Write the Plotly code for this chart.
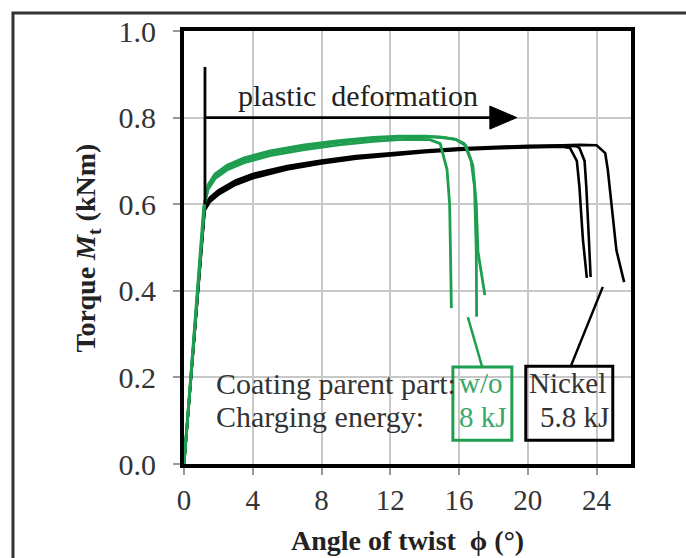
import plotly.graph_objects as go

# ---- data ----
green1_x = [0, 1.15, 1.4, 1.8, 2.5, 3.5, 5, 7, 9, 11, 12.5, 13.5, 14.3, 14.9, 15.3, 15.45, 15.5, 15.55]
green1_y = [0, 0.595, 0.634, 0.659, 0.679, 0.696, 0.712, 0.726, 0.737, 0.745, 0.749, 0.75, 0.749, 0.74, 0.68, 0.60, 0.49, 0.36]
green2_x = [0, 1.2, 1.4, 1.8, 2.5, 3.5, 5, 7, 9, 11, 12.5, 14, 15, 15.8, 16.3, 16.7, 16.9, 17.0, 17.02]
green2_y = [0, 0.60, 0.64, 0.665, 0.685, 0.702, 0.718, 0.732, 0.743, 0.751, 0.755, 0.756, 0.754, 0.75, 0.74, 0.70, 0.64, 0.49, 0.34]
green3_x = [0, 1.2, 1.4, 1.8, 2.5, 3.5, 5, 7, 9, 11, 12.5, 14, 15, 15.8, 16.4, 16.8, 17.0, 17.1, 17.3, 17.5]
green3_y = [0, 0.603, 0.645, 0.670, 0.690, 0.707, 0.723, 0.737, 0.747, 0.754, 0.757, 0.757, 0.755, 0.75, 0.735, 0.69, 0.60, 0.49, 0.44, 0.39]

black1_x = [0, 1.2, 1.5, 2, 3, 4, 6, 8, 10, 12, 14, 16, 18, 20, 22, 22.45, 22.85, 23.0, 23.2, 23.43]
black1_y = [0, 0.585, 0.605, 0.622, 0.645, 0.66, 0.68, 0.694, 0.705, 0.713, 0.72, 0.725, 0.729, 0.731, 0.733, 0.73, 0.70, 0.64, 0.52, 0.43]
black2_x = [0, 1.2, 1.5, 2, 3, 4, 6, 8, 10, 12, 14, 16, 18, 20, 22, 22.8, 23.0, 23.3, 23.4, 23.55, 23.65]
black2_y = [0, 0.59, 0.61, 0.627, 0.65, 0.665, 0.684, 0.698, 0.708, 0.716, 0.722, 0.727, 0.731, 0.733, 0.735, 0.734, 0.73, 0.70, 0.64, 0.52, 0.432]
black3_x = [0, 1.2, 1.5, 2, 3, 4, 6, 8, 10, 12, 14, 16, 18, 20, 22, 23, 24.0, 24.5, 24.65, 24.95, 25.15, 25.6]
black3_y = [0, 0.595, 0.615, 0.632, 0.655, 0.67, 0.688, 0.701, 0.711, 0.718, 0.724, 0.729, 0.732, 0.735, 0.736, 0.737, 0.736, 0.718, 0.68, 0.565, 0.494, 0.42]

# plastic deformation arrow: start x, tip x, level
arrow_start = 1.22
arrow_tip = 19.36
arrow_level = 0.8

x_ticks = [0, 4, 8, 12, 16, 20, 24]
y_ticks = [0.0, 0.2, 0.4, 0.6, 0.8, 1.0]

x_title = "<b>Angle of twist\u00a0\u00a0ϕ (°)</b>"
y_title = "<b>Torque <i>M</i><sub>t</sub> (kNm)</b>"

GREEN = "#1f9e50"
LGREEN = "#3aa868"
SERIF = "Liberation Serif"

fig = go.Figure()
for xs, ys in [(black1_x, black1_y), (black2_x, black2_y), (black3_x, black3_y)]:
    fig.add_trace(go.Scatter(x=xs, y=ys, mode="lines", line=dict(color="black", width=2.6),
                             showlegend=False, hoverinfo="skip"))
for xs, ys in [(green1_x, green1_y), (green2_x, green2_y), (green3_x, green3_y)]:
    fig.add_trace(go.Scatter(x=xs, y=ys, mode="lines", line=dict(color=GREEN, width=2.8),
                             showlegend=False, hoverinfo="skip"))

# arrow shaft and head
head_len = 1.57
head_half = 0.0266
fig.add_shape(type="line", xref="x", yref="y", x0=arrow_start, x1=arrow_tip - head_len + 0.2,
              y0=arrow_level, y1=arrow_level, line=dict(color="black", width=2.8))
fig.add_shape(type="path", xref="x", yref="y",
              path=(f"M {arrow_tip - head_len},{arrow_level + head_half} L {arrow_tip},{arrow_level} "
                    f"L {arrow_tip - head_len},{arrow_level - head_half} Z"),
              fillcolor="black", line=dict(color="black", width=1))

# vertical marker line
fig.add_shape(type="line", xref="x", yref="y", x0=arrow_start, x1=arrow_start, y0=0.6, y1=0.917,
              line=dict(color="black", width=2.8))
fig.add_annotation(x=10.1, y=0.852, xref="x", yref="y", text="plastic\u00a0\u00a0deformation",
                   showarrow=False, font=dict(family=SERIF, size=30, color="#222"))

# legend boxes
fig.add_shape(type="rect", xref="x", yref="y", x0=15.64, x1=19.07, y0=0.055, y1=0.224,
              line=dict(color=GREEN, width=3))
fig.add_shape(type="rect", xref="x", yref="y", x0=19.88, x1=24.94, y0=0.055, y1=0.226,
              line=dict(color="black", width=3))
fig.add_shape(type="line", xref="x", yref="y", x0=16.51, y0=0.339, x1=17.33, y1=0.226,
              line=dict(color=GREEN, width=2.5))
fig.add_shape(type="line", xref="x", yref="y", x0=24.36, y0=0.409, x1=22.5, y1=0.226,
              line=dict(color="black", width=2.5))

fig.add_annotation(x=1.75, y=0.187, xref="x", yref="y", xanchor="left", text="Coating parent part:",
                   showarrow=False, font=dict(family=SERIF, size=30, color="#333"))
fig.add_annotation(x=1.75, y=0.109, xref="x", yref="y", xanchor="left", text="Charging energy:",
                   showarrow=False, font=dict(family=SERIF, size=30, color="#333"))
fig.add_annotation(x=17.3, y=0.187, xref="x", yref="y", text="w/o",
                   showarrow=False, font=dict(family=SERIF, size=29, color=LGREEN))
fig.add_annotation(x=17.4, y=0.109, xref="x", yref="y", text="8 kJ",
                   showarrow=False, font=dict(family=SERIF, size=29, color=LGREEN))
fig.add_annotation(x=22.3, y=0.187, xref="x", yref="y", text="Nickel",
                   showarrow=False, font=dict(family=SERIF, size=29, color="#333"))
fig.add_annotation(x=22.73, y=0.109, xref="x", yref="y", text="5.8 kJ",
                   showarrow=False, font=dict(family=SERIF, size=29, color="#333"))

# axis titles
fig.add_annotation(x=0.5, y=-0.176, xref="paper", yref="paper", text=x_title, showarrow=False,
                   xanchor="center", yanchor="middle", font=dict(family=SERIF, size=28, color="#222"))
fig.add_annotation(x=-0.2148, y=0.5, xref="paper", yref="paper", text=y_title, showarrow=False,
                   textangle=-90, xanchor="center", yanchor="middle",
                   font=dict(family=SERIF, size=28, color="#222"))

# outer frame
fig.add_shape(type="rect", xref="paper", yref="paper", x0=-0.3826, x1=1.16, y0=-0.26, y1=1.0416,
              line=dict(color="#333", width=3), layer="below")

fig.update_layout(
    width=686, height=558,
    margin=dict(l=184, r=55, t=31, b=94, autoexpand=False),
    paper_bgcolor="white", plot_bgcolor="white",
    font=dict(family=SERIF, color="#333"),
    xaxis=dict(range=[0, 26], tickvals=x_ticks, ticktext=[str(v) for v in x_ticks],
               automargin=False,
               showgrid=True, gridcolor="#c8c8c8", gridwidth=1.5,
               showline=True, linecolor="black", linewidth=4, mirror=True,
               ticks="outside", ticklen=7, tickcolor="#999", tickwidth=1.5,
               ticklabelstandoff=0,
               tickfont=dict(family=SERIF, size=29, color="#333"), zeroline=False),
    yaxis=dict(range=[0, 1.0], tickvals=y_ticks, ticktext=[f"{v:.1f}" for v in y_ticks],
               automargin=False,
               showgrid=True, gridcolor="#c8c8c8", gridwidth=1.5,
               showline=True, linecolor="black", linewidth=4, mirror=True,
               ticks="outside", ticklen=7, tickcolor="#999", tickwidth=1.5,
               ticklabelstandoff=11,
               tickfont=dict(family=SERIF, size=30, color="#333"), zeroline=False),
)

fig.write_html("out.html")
